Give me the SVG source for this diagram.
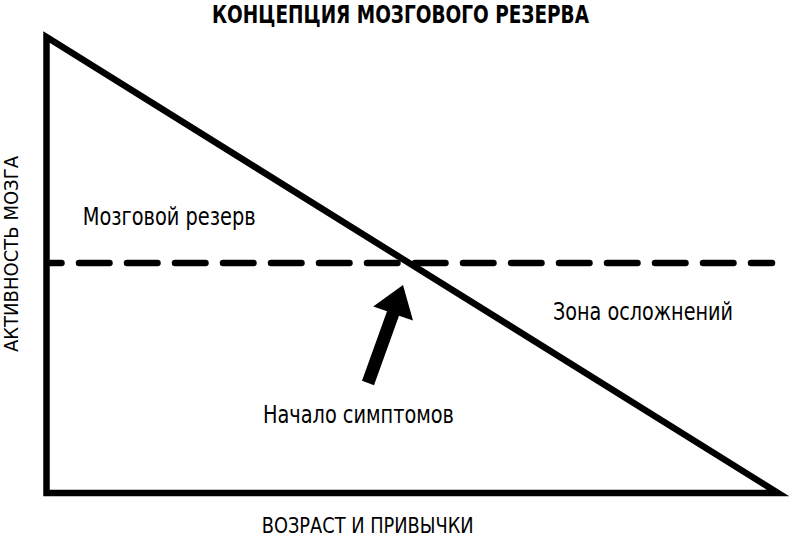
<svg xmlns="http://www.w3.org/2000/svg" width="790" height="537" viewBox="0 0 790 537">
  <style>
    .t { font-family: "DejaVu Sans Condensed", "DejaVu Sans", "Liberation Sans", sans-serif; fill: #000; }
    .title { font-weight: bold; font-size: 24.5px; }
    .lbl { font-size: 25px; }
    .ax { font-size: 22px; }
    .axv { font-size: 20px; }
    .edge { fill: none; stroke: #000; stroke-width: 6.5; stroke-linejoin: miter; stroke-miterlimit: 10; }
    .dash { fill: none; stroke: #000; stroke-width: 6.5; stroke-linecap: round; stroke-dasharray: 30.5 17.5; stroke-dashoffset: 19; }
  </style>
  <rect width="790" height="537" fill="#fff"/>
  <g id="title">
    <text class="t title" x="212" y="23" textLength="377" lengthAdjust="spacingAndGlyphs">КОНЦЕПЦИЯ МОЗГОВОГО РЕЗЕРВА</text>
  </g>
  <g id="connectors">
    <polygon id="triangle" class="edge" points="46.5,37 778,493 46.5,493"/>
    <line id="threshold" class="dash" x1="50" y1="263" x2="772" y2="263"/>
    <polygon id="arrow" fill="#000" points="403,285 413,320.5 399,315.8 374,385.2 362,380.8 387,311.3 373.2,306.4"/>
  </g>
  <g id="label-reserve">
    <text class="t lbl" x="82.7" y="225" textLength="173" lengthAdjust="spacingAndGlyphs">Мозговой резерв</text>
  </g>
  <g id="label-zone">
    <text class="t lbl" x="553" y="320" textLength="180" lengthAdjust="spacingAndGlyphs">Зона осложнений</text>
  </g>
  <g id="label-onset">
    <text class="t lbl" x="263" y="422.7" textLength="191" lengthAdjust="spacingAndGlyphs">Начало симптомов</text>
  </g>
  <g id="axis-x">
    <text class="t ax" x="261.7" y="533" textLength="212" lengthAdjust="spacingAndGlyphs">ВОЗРАСТ И ПРИВЫЧКИ</text>
  </g>
  <g id="axis-y">
    <text class="t axv" transform="translate(17.5,352) rotate(-90)" x="0" y="0" textLength="196" lengthAdjust="spacingAndGlyphs">АКТИВНОСТЬ МОЗГА</text>
  </g>
</svg>
